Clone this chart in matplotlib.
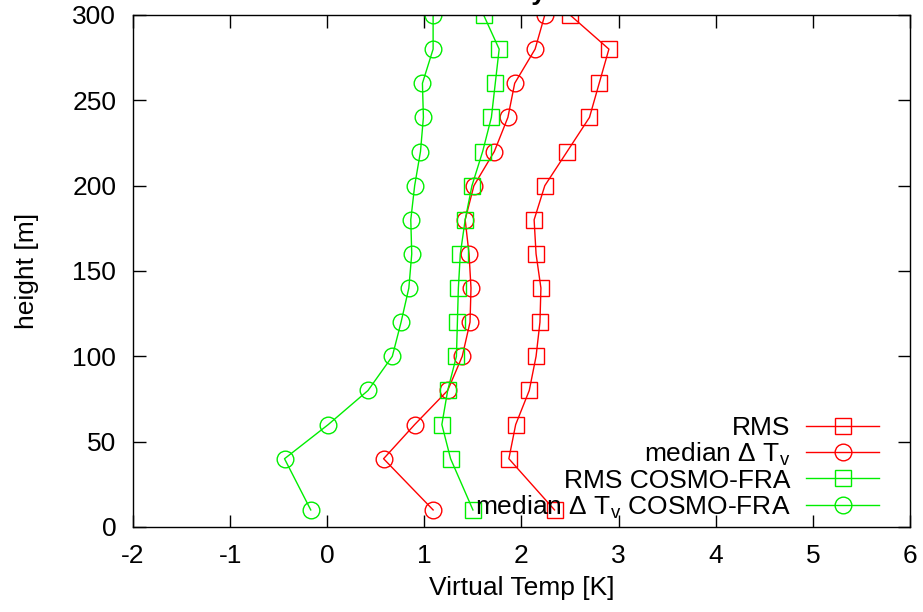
import matplotlib
matplotlib.use('Agg')
import matplotlib.pyplot as plt

plt.rcParams['font.family'] = ['Liberation Sans', 'DejaVu Sans']
plt.rcParams['axes.unicode_minus'] = False

height = [10, 40, 60, 80, 100, 120, 140, 160, 180, 200, 220, 240, 260, 280, 300]

rms = [2.34, 1.87, 1.94, 2.08, 2.15, 2.19, 2.20, 2.15, 2.13, 2.24, 2.47, 2.70, 2.80, 2.90, 2.50]
median_tv = [1.09, 0.58, 0.90, 1.24, 1.39, 1.47, 1.48, 1.46, 1.42, 1.51, 1.72, 1.86, 1.93, 2.14, 2.24]
rms_cosmo = [1.50, 1.27, 1.18, 1.24, 1.33, 1.34, 1.35, 1.37, 1.42, 1.49, 1.60, 1.69, 1.73, 1.77, 1.61]
median_cosmo = [-0.17, -0.44, 0.01, 0.42, 0.67, 0.76, 0.84, 0.87, 0.86, 0.90, 0.96, 0.99, 0.98, 1.09, 1.09]

fs = 19

fig = plt.figure(figsize=(9.23, 6.12), dpi=100)
ax = fig.add_axes([0.1441, 0.1389, 0.8418, 0.8366])

red = '#ff0000'
green = '#00ee00'
style = dict(lw=1.0, ms=12, mfc='none', mew=1.0)
ax.plot(rms, height, color=red, marker='s', label='RMS', **style)
ax.plot(median_tv, height, color=red, marker='o', label='median Δ T$_\\mathregular{v}$', **style)
ax.plot(rms_cosmo, height, color=green, marker='s', label='RMS COSMO-FRA', **style)
ax.plot(median_cosmo, height, color=green, marker='o',
        label='median Δ T$_\\mathregular{v}$ COSMO-FRA', **style)

ax.set_xlim(-2, 6)
ax.set_ylim(0, 300)
ax.set_xticks(range(-2, 7))
ax.set_yticks(range(0, 301, 50))
ax.tick_params(direction='in', length=9, width=1.0, top=True, right=True, labelsize=fs, pad=12)
for s in ax.spines.values():
  s.set_linewidth(1.0)

ax.set_xlabel('Virtual Temp [K]', fontsize=fs, labelpad=6)
ax.set_ylabel('height [m]', fontsize=fs, labelpad=24)

leg = ax.legend(loc='lower right', bbox_to_anchor=(0.9743, -0.008), frameon=False,
                markerfirst=False, fontsize=fs, handlelength=2.77, labelspacing=0.02,
                borderaxespad=0.0, handletextpad=0.6, borderpad=0.4)

fig.text(0.563, 1.0, 'July', ha='center', va='baseline', fontsize=fs, fontweight='bold')

plt.savefig('out.png', dpi=100)
